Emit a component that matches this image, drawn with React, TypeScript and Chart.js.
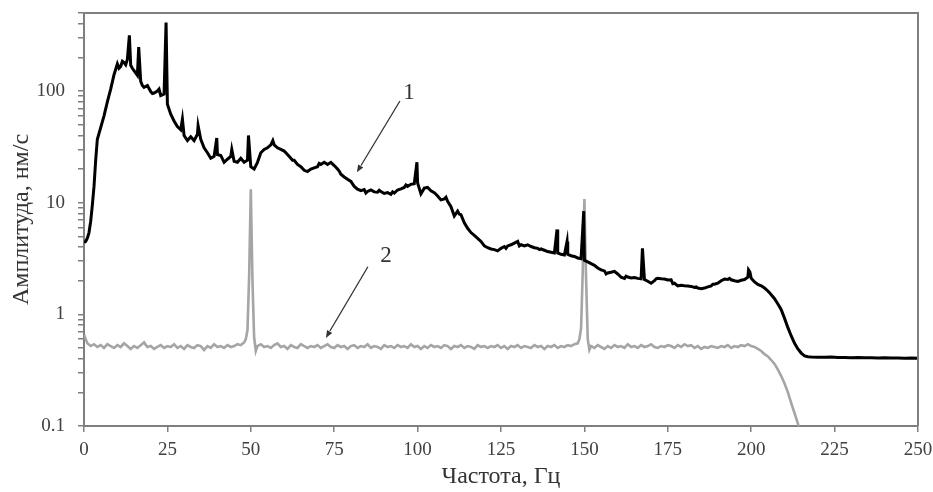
import React, { useEffect, useRef } from 'react';
import { Chart, registerables } from 'chart.js';

Chart.register(...registerables);

const FONT = '"Liberation Serif", "Times New Roman", Times, serif';

// shared frequency grid, Hz (0..218)
const freqGrid = [
  0, 1, 2, 3, 4, 5, 6, 7, 8, 9,
  10, 11, 12, 13, 14, 15, 16, 17, 18, 19,
  20, 21, 22, 23, 24, 25, 26, 27, 28, 29,
  30, 31, 32, 33, 34, 35, 36, 37, 38, 39,
  40, 41, 42, 43, 44, 45, 46, 47, 48, 49,
  50, 51, 52, 53, 54, 55, 56, 57, 58, 59,
  60, 61, 62, 63, 64, 65, 66, 67, 68, 69,
  70, 71, 72, 73, 74, 75, 76, 77, 78, 79,
  80, 81, 82, 83, 84, 85, 86, 87, 88, 89,
  90, 91, 92, 93, 94, 95, 96, 97, 98, 99,
  100, 101, 102, 103, 104, 105, 106, 107, 108, 109,
  110, 111, 112, 113, 114, 115, 116, 117, 118, 119,
  120, 121, 122, 123, 124, 125, 126, 127, 128, 129,
  130, 131, 132, 133, 134, 135, 136, 137, 138, 139,
  140, 141, 142, 143, 144, 145, 146, 147, 148, 149,
  150, 151, 152, 153, 154, 155, 156, 157, 158, 159,
  160, 161, 162, 163, 164, 165, 166, 167, 168, 169,
  170, 171, 172, 173, 174, 175, 176, 177, 178, 179,
  180, 181, 182, 183, 184, 185, 186, 187, 188, 189,
  190, 191, 192, 193, 194, 195, 196, 197, 198, 199,
  200, 201, 202, 203, 204, 205, 206, 207, 208, 209,
  210, 211, 212, 213, 214, 215, 216, 217, 218,
];

// series 1 (black) on the grid
const amp1Grid = [
  4.4, 4.8, 6.8, 14, 37, 47, 60, 80, 104, 140,
  175, 166, 180, 192, 170, 152, 138, 122, 108, 112,
  99, 96, 100, 91, 94, 76, 62, 54, 48, 45,
  40, 36, 39, 36, 41, 37, 31, 28, 25, 26,
  27, 26.5, 23, 24.5, 26, 23.5, 23, 25, 23, 24,
  21, 20, 23, 28, 30, 31, 33, 33, 31, 30,
  29, 27, 25, 24, 22, 21, 19.5, 19, 20, 20.5,
  21, 22, 23, 22, 23, 21.5, 20, 18, 17, 16.2,
  15.5, 14, 13.2, 12.8, 13.1, 12.6, 13, 12.5, 12.4, 12.6,
  12.1, 12.3, 11.9, 12.2, 13, 13.3, 13.7, 14, 14.6, 14.8,
  15, 12, 13.5, 13.7, 12.8, 12.3, 11.5, 10.6, 10.8, 10.3,
  9.2, 7.6, 8.4, 7.8, 6.6, 5.9, 5.4, 5.1, 4.8, 4.5,
  4.1, 3.95, 3.85, 3.8, 3.7, 3.9, 4.05, 4.1, 4.2, 4.35,
  4.5, 4.2, 4.1, 4.2, 4.05, 3.95, 3.9, 3.85, 3.75, 3.65,
  3.6, 3.55, 3.55, 3.45, 3.4, 3.45, 3.35, 3.3, 3.2, 3.15,
  3.05, 2.95, 2.85, 2.75, 2.6, 2.5, 2.45, 2.35, 2.38, 2.43,
  2.3, 2.15, 2.1, 2.16, 2.12, 2.14, 2.1, 2.08, 2.05, 1.98,
  1.9, 2.0, 2.1, 2.08, 2.07, 2.03, 2.04, 1.9, 1.8, 1.82,
  1.8, 1.79, 1.78, 1.74, 1.72, 1.7, 1.72, 1.76, 1.8, 1.86,
  1.9, 2.0, 2.07, 2.05, 2.04, 2.0, 1.97, 2.02, 2.05, 2.15,
  2.1, 1.95, 1.85, 1.8, 1.72, 1.62, 1.5, 1.38, 1.24, 1.1,
  0.92, 0.76, 0.64, 0.55, 0.49, 0.45, 0.425, 0.418, 0.415,
];

// series 1 tail (flat noise floor)
const freq1Tail = [220, 222, 224, 226, 228, 230, 232, 234, 236, 238, 240, 242, 244, 246, 248, 250];
const amp1Tail = [0.413, 0.412, 0.414, 0.41, 0.411, 0.409, 0.41, 0.408, 0.409, 0.407, 0.408, 0.406, 0.407, 0.405, 0.406, 0.404];

// series 1 extra points (rise detail, small wiggles and narrow spectral peaks)
const freq1Extra = [
  0.5, 1.5, 2.5, 3.5, 10.5, 11.5, 12.5, 13.6, 14.5, 16.4, 17.5, 20.5, 22.5, 24.6,
  29.5, 34.2, 39.8, 44.3, 49.3, 56.6, 62.5, 70.5, 76.5, 84.5, 88.5, 92.5, 96.5, 99.8,
  105.5, 108.5, 112.5, 126.5, 130.5, 136.5, 141.8, 144.8, 149.8, 156.5, 162.5, 167.4,
  171.5, 176.5, 183.5, 188.5, 193.5, 199.2, 199.6, 205.5, 208.5,
];
const amp1Extra = [
  4.5, 5.4, 9.5, 24, 160, 185, 172, 315, 160, 248, 112, 95, 104, 410,
  56, 49, 38, 30, 40, 36, 24, 22.5, 19.2, 12.2, 12.9, 12.5, 14.4, 23,
  11.9, 11.2, 7.9, 3.9, 4.1, 3.8, 5.75, 4.5, 8.4, 2.3, 2.2, 3.9,
  2.08, 1.88, 1.76, 1.86, 2.1, 2.5, 2.4, 1.56, 1.17,
];

// series 2 (grey) on the grid, 0..215 Hz
const amp2Grid = [
  0.66, 0.55, 0.52, 0.54, 0.51, 0.53, 0.5, 0.54, 0.52, 0.5,
  0.53, 0.51, 0.55, 0.52, 0.49, 0.52, 0.5, 0.53, 0.56, 0.51,
  0.52, 0.49, 0.51, 0.53, 0.5, 0.52, 0.51, 0.54, 0.5, 0.52,
  0.49, 0.53, 0.51, 0.5, 0.53, 0.52, 0.48, 0.52, 0.5, 0.54,
  0.51, 0.52, 0.5, 0.53, 0.51, 0.52, 0.54, 0.53, 0.56, 0.72,
  13.2, 0.62, 0.52, 0.54, 0.51, 0.52, 0.5, 0.53, 0.55, 0.51,
  0.52, 0.49, 0.53, 0.51, 0.5, 0.54, 0.52, 0.5, 0.52, 0.51,
  0.53, 0.5, 0.52, 0.54, 0.51, 0.5, 0.53, 0.51, 0.52, 0.49,
  0.52, 0.53, 0.5, 0.52, 0.51, 0.54, 0.5, 0.52, 0.51, 0.49,
  0.53, 0.51, 0.52, 0.5, 0.53, 0.51, 0.52, 0.5, 0.54, 0.51,
  0.52, 0.49, 0.52, 0.5, 0.53, 0.51, 0.52, 0.5, 0.53, 0.52,
  0.49, 0.52, 0.51, 0.53, 0.5, 0.52, 0.51, 0.49, 0.53, 0.51,
  0.52, 0.5, 0.52, 0.51, 0.53, 0.5, 0.52, 0.49, 0.52, 0.51,
  0.53, 0.5, 0.52, 0.51, 0.5, 0.53, 0.51, 0.52, 0.49, 0.52,
  0.51, 0.53, 0.5, 0.52, 0.51, 0.53, 0.52, 0.54, 0.55, 0.75,
  10.8, 0.6, 0.52, 0.5, 0.53, 0.51, 0.49, 0.52, 0.5, 0.53,
  0.51, 0.52, 0.5, 0.54, 0.51, 0.52, 0.5, 0.53, 0.51, 0.52,
  0.54, 0.51, 0.5, 0.52, 0.51, 0.53, 0.52, 0.5, 0.53, 0.51,
  0.54, 0.52, 0.53, 0.5, 0.52, 0.49, 0.51, 0.5, 0.52, 0.51,
  0.5, 0.52, 0.51, 0.53, 0.5, 0.52, 0.51, 0.53, 0.52, 0.54,
  0.52, 0.51, 0.49, 0.47, 0.44, 0.42, 0.39, 0.36, 0.32, 0.28,
  0.24, 0.2, 0.16, 0.13, 0.105, 0.085,
];

// series 2 extra points around the 50 Hz and 150 Hz lines
const freq2Extra = [48.5, 49.5, 50.5, 51.5, 148.5, 149.5, 150.5, 151.5];
const amp2Extra = [0.6, 2.2, 2.0, 0.47, 0.6, 2.4, 2.1, 0.48];

// axes
const xTickValues = [0, 25, 50, 75, 100, 125, 150, 175, 200, 225, 250];
const yTickValues = [
  0.1, 0.2, 0.3, 0.4, 0.5, 0.6, 0.7, 0.8, 0.9,
  1, 2, 3, 4, 5, 6, 7, 8, 9,
  10, 20, 30, 40, 50, 60, 70, 80, 90,
  100, 200, 300, 400, 500,
];
const yLabelValues = [0.1, 1, 10, 100];
const yLabelTexts = ['0.1', '1', '10', '100'];

const xTitle = 'Частота, Гц';
const yTitle = 'Амплитуда, нм/с';

// curve markers: label text, label anchor, arrow start, arrow tip (data coords)
const markerTexts = ['1', '2'];
const markerLabelAt = [[97.4, 96], [90.5, 3.36]];
const markerArrowFrom = [[94.7, 81.5], [85.1, 2.67]];
const markerArrowTo = [[81.8, 18.7], [72.5, 0.615]];

function buildPoints(fA: number[], aA: number[], fB: number[], aB: number[], fC: number[] = [], aC: number[] = []) {
  const pts: { x: number; y: number }[] = [];
  aA.forEach((v, i) => pts.push({ x: fA[i], y: v }));
  aB.forEach((v, i) => pts.push({ x: fB[i], y: v }));
  aC.forEach((v, i) => pts.push({ x: fC[i], y: v }));
  pts.sort((p, q) => p.x - q.x);
  return pts;
}

const framePlugin = {
  id: 'frame',
  afterDatasetsDraw(chart: any) {
    const { ctx, chartArea: a, scales } = chart;
    const x = scales.x;
    const y = scales.y;
    ctx.save();
    ctx.strokeStyle = '#7f7f7f';
    ctx.lineWidth = 2;
    ctx.beginPath();
    ctx.moveTo(a.left, a.top);
    ctx.lineTo(a.right, a.top);
    ctx.lineTo(a.right, a.bottom);
    ctx.stroke();

    ctx.strokeStyle = '#333333';
    ctx.fillStyle = '#333333';
    ctx.lineWidth = 1.3;
    markerTexts.forEach((t, i) => {
      const x0 = x.getPixelForValue(markerArrowFrom[i][0]);
      const y0 = y.getPixelForValue(markerArrowFrom[i][1]);
      const x1 = x.getPixelForValue(markerArrowTo[i][0]);
      const y1 = y.getPixelForValue(markerArrowTo[i][1]);
      const ang = Math.atan2(y1 - y0, x1 - x0);
      const head = 8;
      const bx = x1 - head * Math.cos(ang);
      const by = y1 - head * Math.sin(ang);
      ctx.beginPath();
      ctx.moveTo(x0, y0);
      ctx.lineTo(bx, by);
      ctx.stroke();
      ctx.beginPath();
      ctx.moveTo(x1, y1);
      ctx.lineTo(x1 - head * Math.cos(ang - 0.38), y1 - head * Math.sin(ang - 0.38));
      ctx.lineTo(x1 - head * Math.cos(ang + 0.38), y1 - head * Math.sin(ang + 0.38));
      ctx.closePath();
      ctx.fill();
      ctx.font = `23px ${FONT}`;
      ctx.textAlign = 'center';
      ctx.textBaseline = 'middle';
      ctx.fillText(t, x.getPixelForValue(markerLabelAt[i][0]), y.getPixelForValue(markerLabelAt[i][1]));
    });
    ctx.restore();
  },
};

export default function App() {
  const ref = useRef<HTMLCanvasElement | null>(null);

  useEffect(() => {
    if (!ref.current) return;
    const black = buildPoints(freqGrid, amp1Grid, freq1Tail, amp1Tail, freq1Extra, amp1Extra);
    const grey = buildPoints(freqGrid, amp2Grid, freq2Extra, amp2Extra);
    const axisColor = '#7f7f7f';
    const labelColor = '#404040';
    const chart = new Chart(ref.current, {
      type: 'line',
      data: {
        datasets: [
          {
            label: '1',
            data: black,
            borderColor: '#000000',
            borderWidth: 3,
            pointRadius: 0,
            tension: 0,
            fill: false,
          },
          {
            label: '2',
            data: grey,
            borderColor: '#a5a5a5',
            borderWidth: 2.6,
            pointRadius: 0,
            tension: 0,
            fill: false,
          },
        ],
      },
      options: {
        responsive: false,
        animation: false,
        devicePixelRatio: 1,
        events: [],
        layout: { padding: { top: 13, right: 15, left: 0, bottom: 0 } },
        plugins: { legend: { display: false }, tooltip: { enabled: false } },
        scales: {
          x: {
            type: 'linear',
            min: 0,
            max: 250,
            afterBuildTicks: (s: any) => {
              s.ticks = xTickValues.map((v) => ({ value: v }));
            },
            afterFit: (s: any) => {
              s.height = 66;
              s.paddingLeft = 0;
              s.paddingRight = 0;
            },
            ticks: {
              autoSkip: false,
              maxRotation: 0,
              padding: 7,
              color: labelColor,
              font: { family: FONT, size: 19 },
              callback: (v: any) => String(v),
            },
            grid: { drawOnChartArea: false, drawTicks: true, tickLength: 6, color: axisColor, lineWidth: 1.5 },
            border: { display: true, color: axisColor, width: 2 },
            title: {
              display: true,
              text: xTitle,
              color: '#333333',
              font: { family: FONT, size: 24 },
              padding: { top: 0, bottom: 1 },
            },
          },
          y: {
            type: 'logarithmic',
            min: 0.1,
            max: 500,
            afterBuildTicks: (s: any) => {
              s.ticks = yTickValues.map((v) => ({ value: v }));
            },
            afterFit: (s: any) => {
              s.width = 84;
              s.paddingTop = 0;
              s.paddingBottom = 0;
            },
            ticks: {
              autoSkip: false,
              padding: 13,
              color: labelColor,
              font: { family: FONT, size: 19 },
              callback: (v: any) => {
                const i = yLabelValues.findIndex((m) => Math.abs(m - Number(v)) < 1e-9);
                return i >= 0 ? yLabelTexts[i] : '';
              },
            },
            grid: { drawOnChartArea: false, drawTicks: true, tickLength: 6, color: axisColor, lineWidth: 1.5 },
            border: { display: true, color: axisColor, width: 2 },
            title: {
              display: true,
              text: yTitle,
              color: '#333333',
              font: { family: FONT, size: 24 },
              padding: { top: 7, bottom: 0 },
            },
          },
        },
      },
      plugins: [framePlugin],
    });
    return () => chart.destroy();
  }, []);

  return (
    <div style={{ position: 'absolute', left: 0, top: 0, width: 933, height: 492, background: '#ffffff' }}>
      <canvas ref={ref} width={933} height={492} style={{ display: 'block' }} />
    </div>
  );
}
